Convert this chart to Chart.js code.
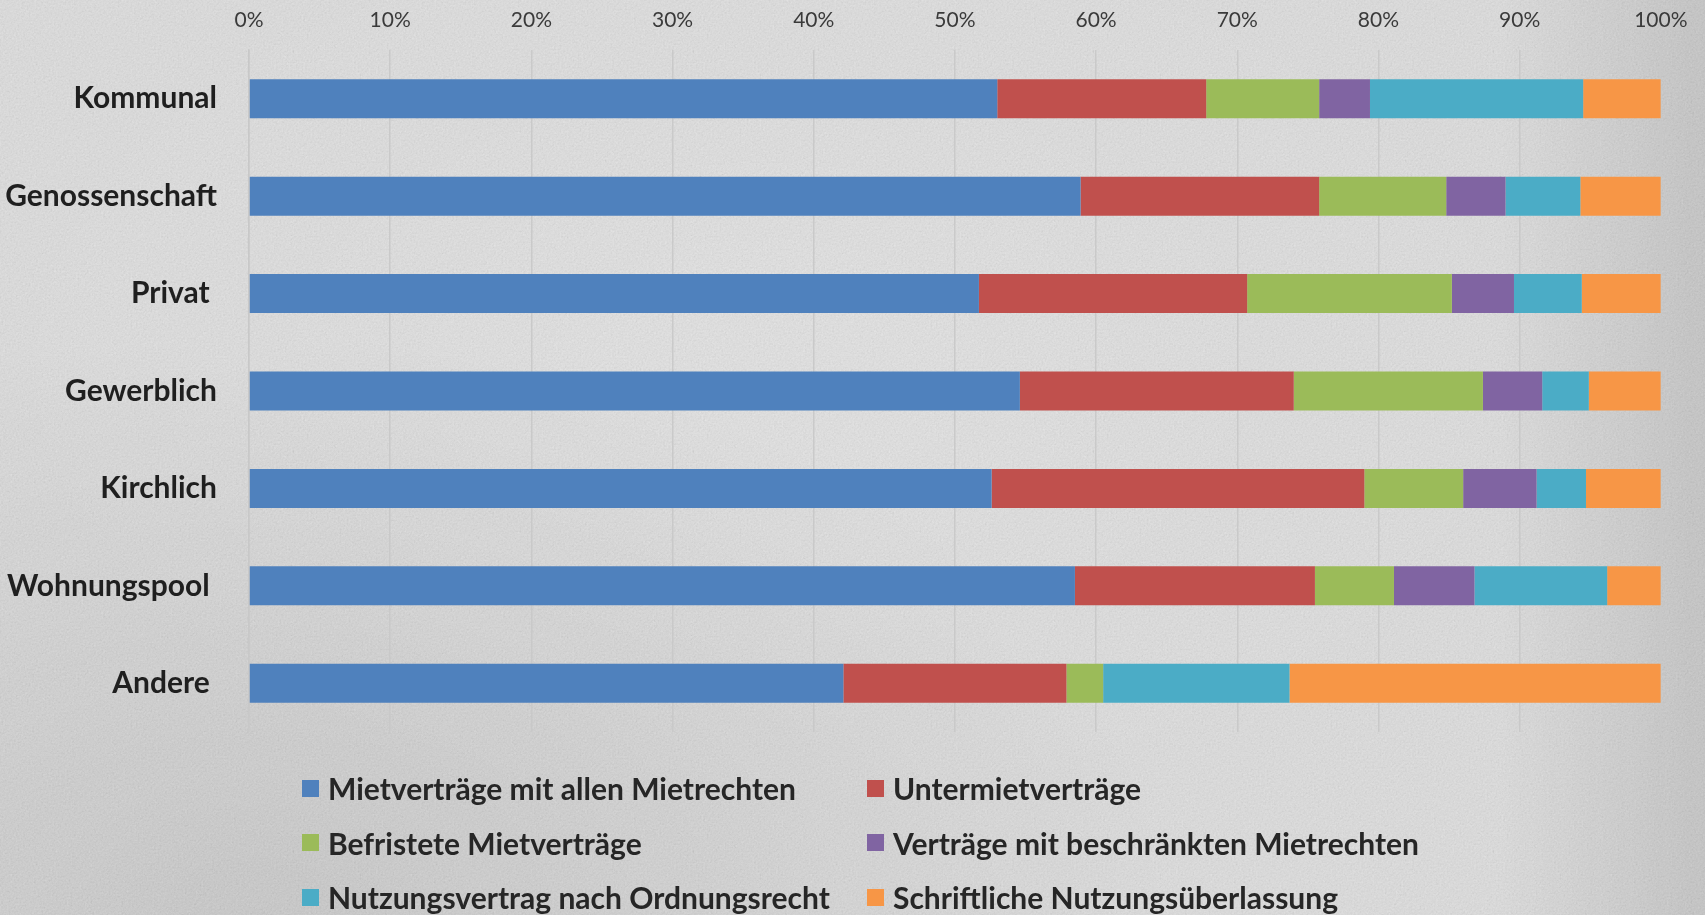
<!DOCTYPE html>
<html>
<head>
<meta charset="utf-8">
<script src="https://cdn.jsdelivr.net/npm/chart.js@4.4.1/dist/chart.umd.min.js"></script>
<style>
  html, body { margin: 0; padding: 0; }
  body {
    width: 1705px; height: 915px; overflow: hidden; position: relative;
    background-color: #e0e0e0;
    background-image:
      url("data:image/svg+xml;utf8,<svg xmlns='http://www.w3.org/2000/svg' width='400' height='400'><filter id='n'><feTurbulence type='fractalNoise' baseFrequency='0.55' numOctaves='4' stitchTiles='stitch'/><feColorMatrix values='0.33 0.33 0.33 0 0  0.33 0.33 0.33 0 0  0.33 0.33 0.33 0 0  0 0 0 0 0.22'/></filter><rect width='100%' height='100%' filter='url(%23n)'/></svg>"),
      linear-gradient(90deg, rgba(0,0,0,0) 88%, rgba(0,0,0,0.12) 100%),
      radial-gradient(ellipse at 15% 100%, rgba(0,0,0,0.10), rgba(0,0,0,0) 45%),
      radial-gradient(ellipse at 45% 40%, rgba(255,255,255,0.2), rgba(255,255,255,0) 60%);
  }
  #chart { position: absolute; left: 0; top: 0; }
  #legend {
    position: absolute; left: 302px; top: 761px;
    display: grid; grid-template-columns: 565px auto; grid-auto-rows: 54.5px;
    font-family: Lato, "Open Sans", sans-serif; font-weight: bold; font-size: 30px; color: #262626;
  }
  .item { display: flex; align-items: center; white-space: nowrap; }
  .box { width: 17px; height: 17px; margin-right: 9px; }
</style>
</head>
<body>
<canvas id="chart" width="1705" height="915"></canvas>
<div id="legend"></div>
<script>
const categories = ['Kommunal', 'Genossenschaft', 'Privat ', 'Gewerblich', 'Kirchlich', 'Wohnungspool ', 'Andere '];
const seriesNames = [
  'Mietverträge mit allen Mietrechten',
  'Untermietverträge',
  'Befristete Mietverträge',
  'Verträge mit beschränkten Mietrechten',
  'Nutzungsvertrag nach Ordnungsrecht',
  'Schriftliche Nutzungsüberlassung'
];
const allenMietrechten = [53.0, 58.9, 51.7, 54.6, 52.6, 58.5, 42.1];
const untermiete = [14.8, 16.9, 19.0, 19.4, 26.4, 17.0, 15.8];
const befristet = [8.0, 9.0, 14.5, 13.4, 7.0, 5.6, 2.6];
const beschraenkt = [3.6, 4.2, 4.4, 4.2, 5.2, 5.7, 0];
const ordnungsrecht = [15.1, 5.3, 4.8, 3.3, 3.5, 9.4, 13.2];
const schriftlich = [5.5, 5.7, 5.6, 5.1, 5.3, 3.8, 26.3];
const tickValues = [0, 10, 20, 30, 40, 50, 60, 70, 80, 90, 100];

const colors = ['#4F81BD', '#C0504D', '#9BBB59', '#8064A2', '#4BACC6', '#F79646'];
const seriesData = [allenMietrechten, untermiete, befristet, beschraenkt, ordnungsrecht, schriftlich];

const datasets = seriesNames.map((name, i) => ({
  label: name,
  data: seriesData[i],
  backgroundColor: colors[i],
  borderWidth: 0,
  categoryPercentage: 1,
  barPercentage: 0.4
}));

const ctx = document.getElementById('chart').getContext('2d');
const chart = new Chart(ctx, {
  type: 'bar',
  data: { labels: categories, datasets: datasets },
  options: {
    indexAxis: 'y',
    responsive: false,
    maintainAspectRatio: false,
    animation: false,
    layout: { padding: { top: 7.5, bottom: 183, right: 40, left: 0 } },
    plugins: {
      legend: { display: false },
      tooltip: { enabled: false }
    },
    scales: {
      x: {
        position: 'top',
        stacked: true,
        min: 0,
        max: 100,
        afterBuildTicks: (scale) => { scale.ticks = tickValues.map(v => ({ value: v })); },
        afterFit: (scale) => { scale.height = 41.5; },
        ticks: {
          padding: 17.5,
          color: '#3a3a3a',
          font: { family: 'Lato, "Open Sans", sans-serif', size: 21 },
          callback: (v) => v + '%'
        },
        grid: { color: 'rgba(200,200,200,0.9)', lineWidth: 1.5, drawTicks: false },
        border: { display: false }
      },
      y: {
        stacked: true,
        afterFit: (scale) => { scale.width = 249; },
        ticks: {
          padding: 32,
          color: '#1f1f1f',
          font: { family: 'Lato, "Open Sans", sans-serif', size: 30, weight: 'bold' }
        },
        grid: { display: false, drawTicks: false },
        border: { display: true, color: 'rgba(200,200,200,0.9)', width: 1.5 }
      }
    }
  }
});

// legend as a 2-column grid like the original
const legendBox = document.getElementById('legend');
chart.data.datasets.forEach((ds) => {
  const item = document.createElement('div');
  item.className = 'item';
  const box = document.createElement('span');
  box.className = 'box';
  box.style.background = ds.backgroundColor;
  const txt = document.createElement('span');
  txt.textContent = ds.label;
  item.appendChild(box);
  item.appendChild(txt);
  legendBox.appendChild(item);
});
</script>
</body>
</html>
